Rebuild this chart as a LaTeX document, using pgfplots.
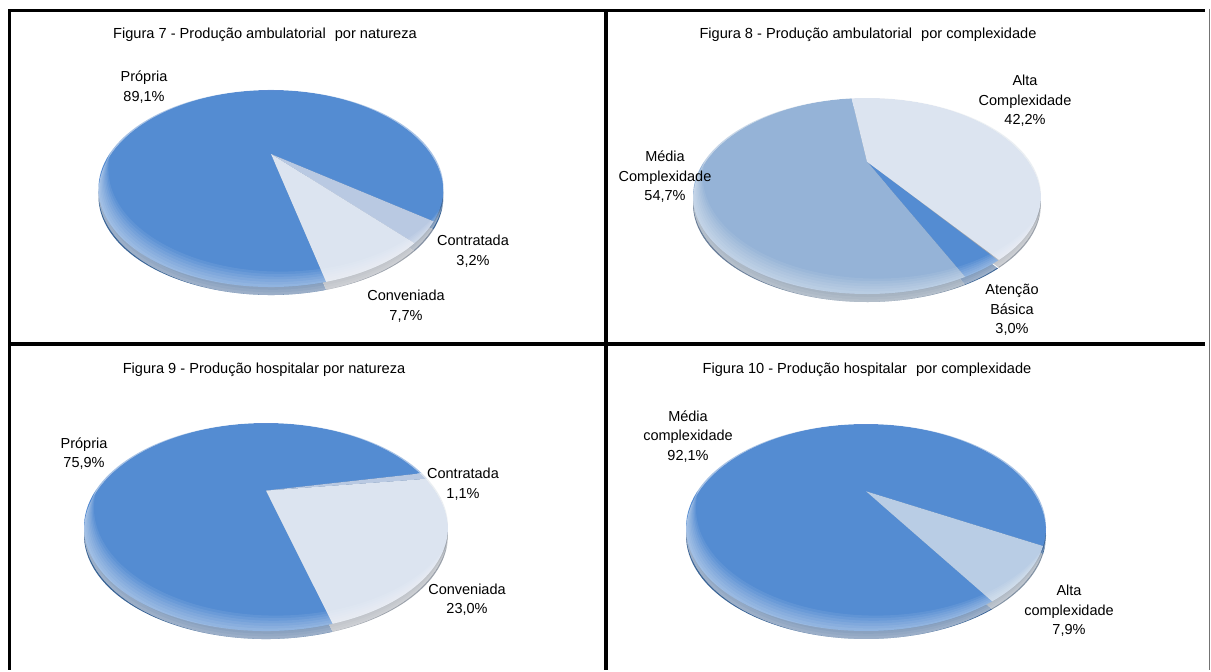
\documentclass[border=0pt]{standalone}
\usepackage{fontspec}
\setmainfont{Liberation Sans}
\usepackage{pgfplots}
\usepackage{pgfplotstable}
\pgfplotsset{compat=1.18}
\usetikzlibrary{fadings}
\definecolor{pblue}{RGB}{84,140,210}
\definecolor{plight}{RGB}{220,228,240}
\definecolor{pmid}{RGB}{185,201,226}
\definecolor{pmed}{RGB}{149,179,215}
\definecolor{palta}{RGB}{185,205,229}

% Figura 7
\pgfplotstableread{
value col
89.1 pblue
3.2 pmid
7.7 plight
}\tabA
% Figura 8
\pgfplotstableread{
value col
3.0 pblue
54.7 pmed
42.2 plight
}\tabB
% Figura 9
\pgfplotstableread{
value col
75.9 pblue
1.1 pmid
23.0 plight
}\tabC
% Figura 10
\pgfplotstableread{
value col
92.1 pblue
7.9 palta
}\tabD

\pgfdeclareradialshading{rimsh}{\pgfpoint{-9bp}{7bp}}{color(0bp)=(black); color(38bp)=(black); color(50bp)=(white)}
\pgfdeclarefading{rim}{\pgfuseshading{rimsh}}

\def\pk{0.35}
\newcommand\slicepoint[1]{%
  \pgfmathsetmacro\px{\prx*sqrt(1-\pk*\pk)*cos(#1)/(1+\pk*sin(#1))}%
  \pgfmathsetmacro\py{\pry*(1-\pk*\pk)*sin(#1)/(1+\pk*sin(#1))}%
  \pgfmathsetmacro\pphi{atan2((\py+\pk*\pry)/\pry,\px/\prx)}%
}
\newcommand\pieslice[5]{% #1 cx, #2 apex y, #3 theta1, #4 span, #5 fill
  \slicepoint{#3}\let\pxA\px\let\pyA\py\let\phiA\pphi
  \pgfmathsetmacro\thB{#3-#4}%
  \slicepoint{\thB}\let\phiB\pphi
  \pgfmathsetmacro\dphi{mod(\phiA-\phiB+720,360)}%
  \pgfmathsetmacro\phiE{\phiA-\dphi}%
  \edef\tmp{\noexpand\fill[#5] (axis cs:#1,#2) -- ++(\pxA bp,\pyA bp) arc[start angle=\phiA, end angle=\phiE, x radius=\prx bp, y radius=\pry bp] -- cycle;}\tmp
}
\newcommand\drawpie[7]{% #1 table #2 cx #3 cy #4 rx #5 ry #6 start #7 thickness
  \def\prx{#4}\def\pry{#5}%
  \pgfmathsetmacro\apy{#3-\pk*#5}%
  \pgfmathsetmacro\apys{\apy+#7}%
  \pgfplotstablegetrowsof{#1}\pgfmathtruncatemacro\nlast{\pgfplotsretval-1}%
  \xdef\cumang{#6}%
  \foreach \i in {0,...,\nlast}{%
    \pgfplotstablegetelem{\i}{value}\of{#1}\pgfmathsetmacro\sspan{3.6*\pgfplotsretval}%
    \pgfplotstablegetelem{\i}{col}\of{#1}\edef\col{\pgfplotsretval}%
    \pieslice{#2}{\apys}{\cumang}{\sspan}{\col!72!black}%
    \xdef\cumang{\thB}%
  }%
  \xdef\cumang{#6}%
  \foreach \i in {0,...,\nlast}{%
    \pgfplotstablegetelem{\i}{value}\of{#1}\pgfmathsetmacro\sspan{3.6*\pgfplotsretval}%
    \pgfplotstablegetelem{\i}{col}\of{#1}\edef\col{\pgfplotsretval}%
    \pieslice{#2}{\apy}{\cumang}{\sspan}{\col}%
    \xdef\cumang{\thB}%
  }%
  % bevel: darker rim (right / lower right)
  \pgfmathsetmacro\ocy{#3+#7/2}\pgfmathsetmacro\ory{#5+#7/2}%
  \edef\tmp{\noexpand\fill[black,opacity=0.4,path fading=rim,fit fading=true] (axis cs:#2,\ocy) ++(#4 bp,0) arc[start angle=0,end angle=360,x radius=#4 bp,y radius=\ory bp] -- cycle;}\tmp
  % bevel: light highlight (lower left)
  \foreach \d in {2,4,...,18}{%
    \edef\tmp{\noexpand\fill[white,opacity=0.075,even odd rule] (axis cs:#2,\ocy) ++(#4 bp,0) arc[start angle=0,end angle=360,x radius=#4 bp,y radius=\ory bp] -- cycle (axis cs:#2,\ocy) ++(#4 bp+0.55*\d bp,1.3*\d bp) arc[start angle=0,end angle=360,x radius=#4 bp,y radius=\ory bp] -- cycle;}\tmp
  }%
}
\newcommand\lbl{\fontsize{14.5bp}{19.5bp}\selectfont}
\newcommand\ttl{\fontsize{14.6bp}{18bp}\selectfont}

\begin{document}
\begin{tikzpicture}
\begin{axis}[
  width=1211bp, height=670bp, scale only axis,
  xmin=0, xmax=1211, ymin=0, ymax=670, y dir=reverse,
  hide axis, clip=false,
]
\path (axis cs:0,0) rectangle (axis cs:1211,670);
% frame
\draw[line width=3.6bp] (axis cs:9.5,670) -- (axis cs:9.5,10.5) -- (axis cs:1205,10.5);
\draw[line width=3.6bp] (axis cs:606,10.5) -- (axis cs:606,670);
\draw[line width=3.6bp] (axis cs:9.5,344) -- (axis cs:1205,344);
\draw[line width=1bp, black!55] (axis cs:1209.5,9) -- (axis cs:1209.5,670);

% pies
\drawpie{\tabA}{271}{188.5}{172.5}{98.5}{283}{8}
\drawpie{\tabB}{867}{196}{174}{98}{-55}{8}
\drawpie{\tabC}{266}{527}{182}{104}{285}{8}
\drawpie{\tabD}{866}{527.5}{180}{103.5}{301.7}{8}

% titles
\node[anchor=base,font=\ttl] at (axis cs:265,39) {Figura 7 - Produção ambulatorial\hspace{5bp} por natureza};
\node[anchor=base,font=\ttl] at (axis cs:868,39) {Figura 8 - Produção ambulatorial\hspace{5bp} por complexidade};
\node[anchor=base,font=\ttl] at (axis cs:264,374) {Figura 9 - Produção hospitalar por natureza};
\node[anchor=base,font=\ttl] at (axis cs:867,374) {Figura 10 - Produção hospitalar\hspace{5bp} por complexidade};

% labels
\node[align=center,font=\lbl] at (axis cs:144,87) {Própria\\89,1\%};
\node[align=center,font=\lbl] at (axis cs:473,251) {Contratada\\3,2\%};
\node[align=center,font=\lbl] at (axis cs:406,306) {Conveniada\\7,7\%};

\node[align=center,font=\lbl] at (axis cs:1025,101) {Alta\\Complexidade\\42,2\%};
\node[align=center,font=\lbl] at (axis cs:665,177) {Média\\Complexidade\\54,7\%};
\node[align=center,font=\lbl] at (axis cs:1012,310) {Atenção\\Básica\\3,0\%};

\node[align=center,font=\lbl] at (axis cs:84,453.5) {Própria\\75,9\%};
\node[align=center,font=\lbl] at (axis cs:463,484) {Contratada\\1,1\%};
\node[align=center,font=\lbl] at (axis cs:467,599.5) {Conveniada\\23,0\%};

\node[align=center,font=\lbl] at (axis cs:688,436.5) {Média\\complexidade\\92,1\%};
\node[align=center,font=\lbl] at (axis cs:1069,611) {Alta\\complexidade\\7,9\%};
\end{axis}
\end{tikzpicture}
\end{document}
